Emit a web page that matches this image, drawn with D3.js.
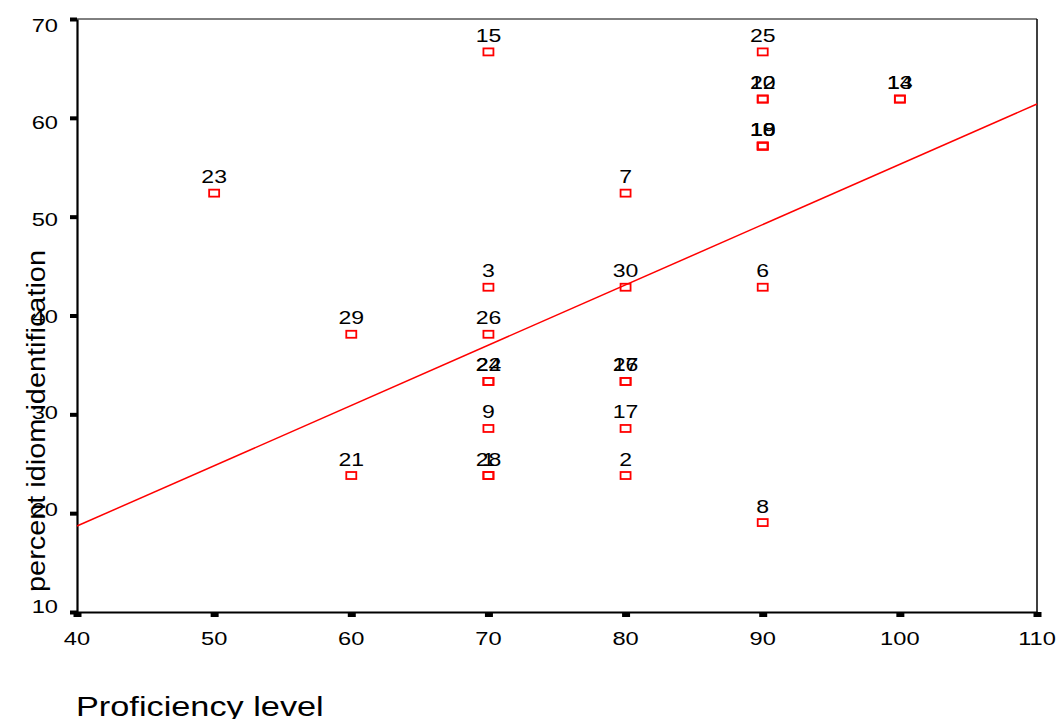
<!DOCTYPE html>
<html>
<head>
<meta charset="utf-8">
<script src="https://cdn.jsdelivr.net/npm/d3@7"></script>
<style>
  body { margin: 0; background: #fff; }
  text { font-family: "Liberation Sans", Arial, sans-serif; fill: #000; }
</style>
</head>
<body>
<svg id="chart" width="1062" height="719"></svg>
<script>
// case numbers, proficiency level and percent idiom identification
const caseIds     = [23, 29, 21, 15, 3, 26, 22, 24, 9, 28, 1, 7, 30, 27, 16, 17, 2, 25, 20, 12, 10, 18, 19, 6, 8, 14, 13];
const proficiency = [50, 60, 60, 70, 70, 70, 70, 70, 70, 70, 70, 80, 80, 80, 80, 80, 80, 90, 90, 90, 90, 90, 90, 90, 90, 100, 100];
const idiomPct    = [52.38, 38.10, 23.81, 66.67, 42.86, 38.10, 33.33, 33.33, 28.57, 23.81, 23.81,
                     52.38, 42.86, 33.33, 33.33, 28.57, 23.81,
                     66.67, 61.90, 61.90, 57.14, 57.14, 57.14, 42.86, 19.05, 61.90, 61.90];

// fitted regression line (endpoints)
const fitX = [40, 110];
const fitY = [18.7, 61.4];

const xTicks = [40, 50, 60, 70, 80, 90, 100, 110];
const yTicks = [10, 20, 30, 40, 50, 60, 70];

const xTitle = 'Proficiency level';
const yTitle = 'percent idiom identification';

const svg = d3.select('#chart');
const m = { left: 77, right: 1037, top: 19, bottom: 612 };
const stretch = 1.28; // text in the picture is a bit wider than normal

const x = d3.scaleLinear().domain([40, 110]).range([m.left, m.right]);
const y = d3.scaleLinear().domain([10, 70]).range([m.bottom, m.top]);
// tick labels sit slightly inside the tick range
const yLab = d3.scaleLinear().domain([10, 70]).range([m.bottom - 6, m.top + 6]);

// frame top / right
svg.append('line').attr('x1', m.left).attr('x2', m.right).attr('y1', m.top).attr('y2', m.top)
  .attr('stroke', '#000').attr('stroke-width', 1);
svg.append('line').attr('x1', m.right).attr('x2', m.right).attr('y1', m.top).attr('y2', m.bottom)
  .attr('stroke', '#000').attr('stroke-width', 1.5);

// axes, ticks as short thick marks, labels drawn separately
const gx = svg.append('g')
  .attr('transform', `translate(0,${m.bottom})`)
  .call(d3.axisBottom(x).tickValues(xTicks).tickSize(5).tickSizeOuter(0).tickFormat(''));
const gy = svg.append('g')
  .attr('transform', `translate(${m.left},0)`)
  .call(d3.axisLeft(y).tickValues(yTicks).tickSize(7).tickSizeOuter(0).tickFormat(''));
gx.select('.domain').attr('stroke', '#000').attr('stroke-width', 2.2);
gy.select('.domain').attr('stroke', '#000').attr('stroke-width', 2.2);
gx.selectAll('.tick line').attr('stroke', '#000').attr('stroke-width', 8);
gy.selectAll('.tick line').attr('stroke', '#000').attr('stroke-width', 4);

svg.selectAll('.xlab')
  .data(xTicks)
  .enter()
  .append('text')
  .attr('class', 'xlab')
  .attr('transform', d => `translate(${x(d)},645) scale(${stretch},1)`)
  .attr('text-anchor', 'middle')
  .attr('font-size', '18.5px')
  .text(d => d);

svg.selectAll('.ylab')
  .data(yTicks)
  .enter()
  .append('text')
  .attr('class', 'ylab')
  .attr('transform', d => `translate(58,${yLab(d) + 7}) scale(${stretch},1)`)
  .attr('text-anchor', 'end')
  .attr('font-size', '18.5px')
  .text(d => d);

// regression line
svg.append('line')
  .attr('x1', x(fitX[0])).attr('y1', y(fitY[0]))
  .attr('x2', x(fitX[1])).attr('y2', y(fitY[1]))
  .attr('stroke', 'red')
  .attr('stroke-width', 1.5);

// points
svg.selectAll('rect.pt')
  .data(caseIds)
  .enter()
  .append('rect')
  .attr('class', 'pt')
  .attr('x', (_, i) => x(proficiency[i]) - 5)
  .attr('y', (_, i) => y(idiomPct[i]) - 3.5)
  .attr('width', 10)
  .attr('height', 7)
  .attr('fill', 'none')
  .attr('stroke', 'red')
  .attr('stroke-width', 1.8);

svg.selectAll('text.case')
  .data(caseIds)
  .enter()
  .append('text')
  .attr('class', 'case')
  .attr('transform', (_, i) => `translate(${x(proficiency[i])},${y(idiomPct[i]) - 10}) scale(${stretch},1)`)
  .attr('text-anchor', 'middle')
  .attr('font-size', '18px')
  .text(d => d);

// axis titles
svg.append('text')
  .attr('transform', `translate(76,716) scale(${stretch - 0.01},1)`)
  .attr('font-size', '27px')
  .text(xTitle);

svg.append('text')
  .attr('transform', 'translate(45,421) rotate(-90)')
  .attr('text-anchor', 'middle')
  .attr('font-size', '25px')
  .attr('textLength', 342)
  .attr('lengthAdjust', 'spacingAndGlyphs')
  .text(yTitle);
</script>
</body>
</html>
